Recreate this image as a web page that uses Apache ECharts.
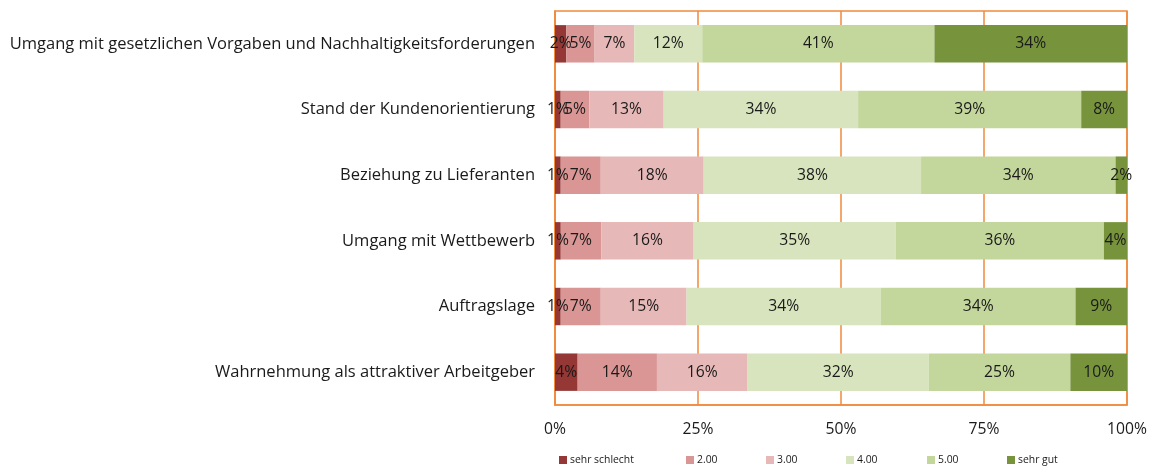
<!DOCTYPE html>
<html>
<head>
<meta charset="utf-8">
<script src="https://cdn.jsdelivr.net/npm/echarts@6/dist/echarts.min.js"></script>
<style>html,body{margin:0;padding:0;background:#fff}#c{width:1153px;height:468px}</style>
</head>
<body>
<div id="c"></div>
<script>
const categories = [
  'Umgang mit gesetzlichen Vorgaben und Nachhaltigkeitsforderungen',
  'Stand der Kundenorientierung',
  'Beziehung zu Lieferanten',
  'Umgang mit Wettbewerb',
  'Auftragslage',
  'Wahrnehmung als attraktiver Arbeitgeber'
];
const seriesNames = ['sehr schlecht', '2.00', '3.00', '4.00', '5.00', 'sehr gut'];
const sehrSchlecht = [2, 1, 1, 1, 1, 4];
const v2 = [5, 5, 7, 7, 7, 14];
const v3 = [7, 13, 18, 16, 15, 16];
const v4 = [12, 34, 38, 35, 34, 32];
const v5 = [41, 39, 34, 36, 34, 25];
const sehrGut = [34, 8, 2, 4, 9, 10];
const xTicks = [0, 25, 50, 75, 100];

const colors = ['#953735', '#D99694', '#E6B9B8', '#D7E4BD', '#C3D69B', '#77933C'];
const raw = [sehrSchlecht, v2, v3, v4, v5, sehrGut];
const totals = categories.map((_, i) => raw.reduce((s, a) => s + a[i], 0));
const FONT = 'Open Sans';
const ORANGE = '#F08A3C';

// fit font size so text width matches the reference
const cv = document.createElement('canvas').getContext('2d');
function fit(text, target) {
  cv.font = '20px "' + FONT + '"';
  return Math.round(20 * target / cv.measureText(text).width * 10) / 10;
}
const catSize = fit(categories[0], 526);
const valSize = fit('41%', 31);
const axSize = fit('100%', 40);
const legSize = fit('sehr schlecht', 64);

const series = raw.map((arr, k) => ({
  name: seriesNames[k],
  type: 'bar',
  stack: 'total',
  barCategoryGap: '43%',
  itemStyle: { color: colors[k] },
  label: {
    show: true,
    position: 'inside',
    color: '#1a1a1a',
    fontFamily: FONT,
    fontSize: valSize,
    formatter: p => arr[p.dataIndex] + '%'
  },
  data: arr.map((v, i) => v / totals[i] * 100)
}));

const legendLeft = [554, 681, 761, 841, 922, 1002];
const legends = seriesNames.map((n, k) => ({
  data: [n],
  left: legendLeft[k], bottom: -2,
  itemWidth: 8, itemHeight: 8, itemGap: 0,
  icon: 'rect',
  textStyle: { color: '#1a1a1a', fontFamily: FONT, fontSize: legSize, padding: [0, 0, 0, -2] }
}));

const chart = echarts.init(document.getElementById('c'));
chart.setOption({
  animation: false,
  color: colors,
  grid: { left: 555, right: 26, top: 11, bottom: 63, show: true, borderColor: ORANGE, borderWidth: 1.5 },
  xAxis: {
    type: 'value', min: 0, max: 100, interval: 25,
    axisLine: { show: true, lineStyle: { color: ORANGE, width: 1.5 } },
    axisTick: { show: false },
    splitLine: { show: true, lineStyle: { color: ORANGE, width: 1.5 } },
    axisLabel: { color: '#1a1a1a', fontFamily: FONT, fontSize: axSize, margin: 17,
      formatter: v => xTicks.includes(v) ? v + '%' : '' }
  },
  yAxis: {
    type: 'category', data: categories, inverse: true,
    axisLine: { show: true, lineStyle: { color: ORANGE, width: 1.5 } },
    axisTick: { show: false },
    axisLabel: { color: '#1a1a1a', fontFamily: FONT, fontSize: catSize, margin: 20 }
  },
  legend: legends,
  series
});
</script>
</body>
</html>
